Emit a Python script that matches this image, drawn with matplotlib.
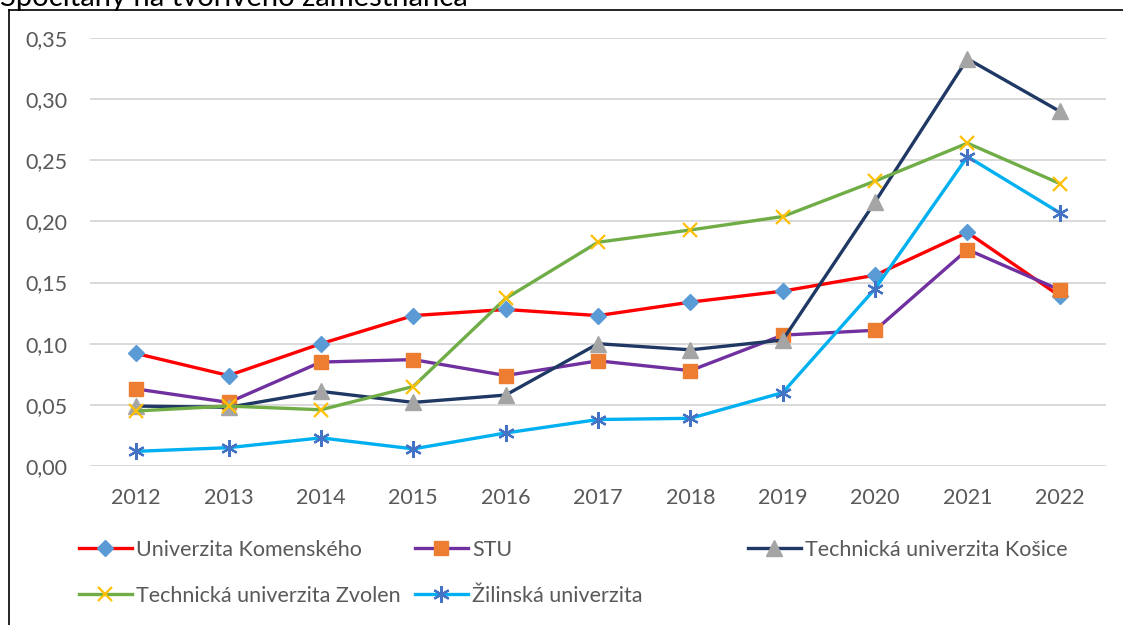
import matplotlib.pyplot as plt
from matplotlib.lines import Line2D

roky = ['2012', '2013', '2014', '2015', '2016', '2017', '2018', '2019', '2020', '2021', '2022']

uk = [0.092, 0.074, 0.100, 0.123, 0.128, 0.123, 0.134, 0.143, 0.156, 0.191, 0.139]
stu = [0.063, 0.052, 0.085, 0.087, 0.074, 0.086, 0.078, 0.107, 0.111, 0.177, 0.144]
tuke = [0.049, 0.048, 0.061, 0.052, 0.058, 0.100, 0.095, 0.103, 0.216, 0.333, 0.290]
tuzvo = [0.045, 0.049, 0.046, 0.065, 0.137, 0.183, 0.193, 0.204, 0.233, 0.264, 0.231]
uniza = [0.012, 0.015, 0.023, 0.014, 0.027, 0.038, 0.039, 0.060, 0.145, 0.253, 0.207]

nazvy = ['Univerzita Komenského', 'STU', 'Technická univerzita Košice',
         'Technická univerzita Zvolen', 'Žilinská univerzita']

plt.rcParams['font.family'] = ['Lato', 'DejaVu Sans']

fig = plt.figure(figsize=(11.23, 6.25), dpi=100)
ax = fig.add_axes([90 / 1123, 1 - 466 / 625, (1106 - 90) / 1123, (466 - 38) / 625])

x = list(range(len(roky)))

#styly ciar a znaciek (ako v Exceli)
styly = [
    dict(color='#FF0000', marker='D', mfc='#5B9BD5', mec='#5B9BD5', ms=8.5),
    dict(color='#7030A0', marker='s', mfc='#ED7D31', mec='#ED7D31', ms=10.5),
    dict(color='#1F3864', marker='^', mfc='#A5A5A5', mec='#A5A5A5', ms=11),
    dict(color='#70AD47', marker='x', mfc='#FFC000', mec='#FFC000', ms=10, mew=1.6),
    dict(color='#00B0F0', marker=(6, 2, 0), mfc='#4472C4', mec='#4472C4', ms=12, mew=1.6),
]
serie = [uk, stu, tuke, tuzvo, uniza]

for hodnoty, st in zip(serie, styly):
    ax.plot(x, hodnoty, lw=2.4, zorder=3, **st)

ax.set_xlim(-0.5, len(roky) - 0.5)
ax.set_ylim(0, 0.35)
ax.set_yticks([0, 0.05, 0.10, 0.15, 0.20, 0.25, 0.30, 0.35])
ax.set_yticklabels([f'{v:.2f}'.replace('.', ',') for v in ax.get_yticks()])
ax.set_xticks(x)
ax.set_xticklabels(roky)
ax.grid(axis='y', color='#D9D9D9', lw=1.4)
ax.set_axisbelow(True)
for s in ax.spines.values():
    s.set_visible(False)
ax.tick_params(length=0, labelsize=15.5, labelcolor='#595959')
ax.tick_params(axis='y', pad=16)
ax.tick_params(axis='x', pad=16)

#ram okolo grafu
fig.add_artist(Line2D([8.5 / 1123, 8.5 / 1123], [0, 1 - 10 / 625], color='black', lw=1.2))
fig.add_artist(Line2D([8.5 / 1123, 1], [1 - 10 / 625, 1 - 10 / 625], color='black', lw=1.2))

#nadpis orezany hore
fig.text(0, 1 - 6 / 625, 'Spočítaný na tvorivého zamestnanca', fontsize=21,
         color='black', va='baseline', ha='left')

#legenda - kazda polozka zvlast
pozicie = [(79, 550), (415, 550), (748, 550), (79, 596), (415, 596)]
for nazov, st, (px, py) in zip(nazvy, styly, pozicie):
    h = Line2D([], [], lw=2.4, **st)
    leg = fig.legend(handles=[h], labels=[nazov], loc='center left',
                     bbox_to_anchor=(px / 1123, 1 - py / 625), frameon=False,
                     fontsize=15.5, handlelength=2.45, handletextpad=0.22,
                     borderaxespad=0, borderpad=0)
    for t in leg.get_texts():
        t.set_color('#595959')

fig.savefig('out.png', dpi=100)
